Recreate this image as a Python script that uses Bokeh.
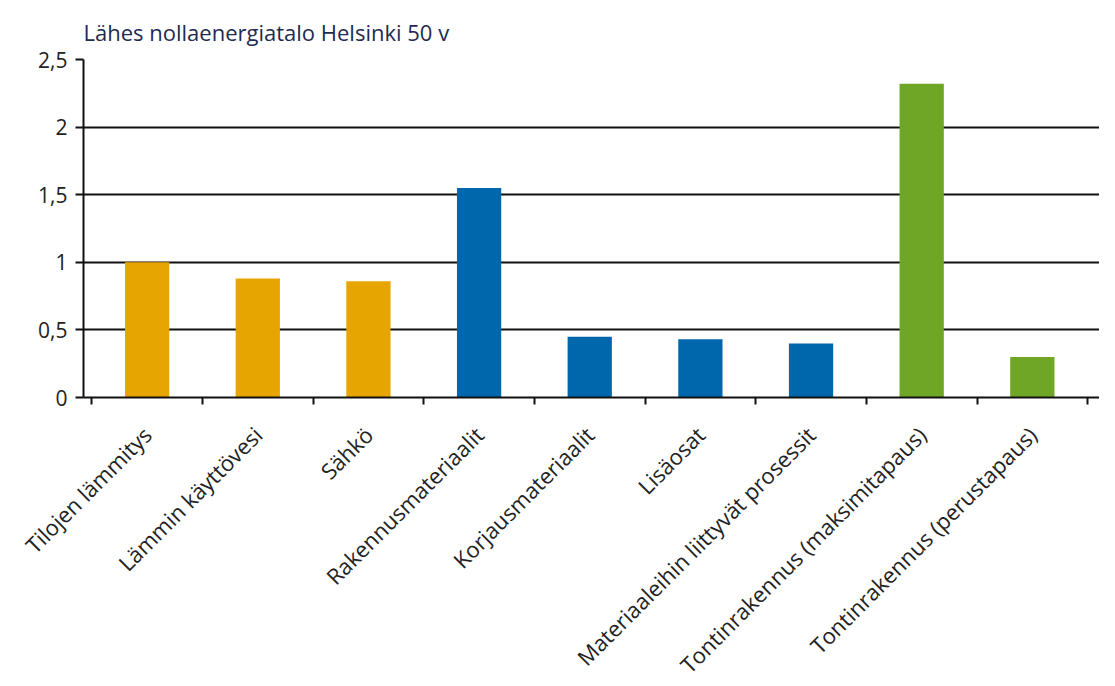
from bokeh.plotting import figure
from bokeh.models import Range1d, FixedTicker
from bokeh.embed import file_html
from bokeh.resources import INLINE

categories = [
    "Tilojen lämmitys",
    "Lämmin käyttövesi",
    "Sähkö",
    "Rakennusmateriaalit",
    "Korjausmateriaalit",
    "Lisäosat",
    "Materiaaleihin liittyvät prosessit",
    "Tontinrakennus (maksimitapaus)",
    "Tontinrakennus (perustapaus)",
]
values = [1.0, 0.88, 0.86, 1.55, 0.45, 0.43, 0.40, 2.32, 0.30]
group_colors = ["#E6A500"] * 3 + ["#0067AC"] * 4 + ["#6FA626"] * 2
y_ticks = [0, 0.5, 1, 1.5, 2, 2.5]
y_tick_labels = ["0", "0,5", "1", "1,5", "2", "2,5"]
title_text = "Lähes nollaenergiatalo Helsinki 50 v"

FONT = "Open Sans"
positions = [i + 0.5 for i in range(len(categories))]

p = figure(
    frame_width=1016, frame_height=338,
    x_range=Range1d(-0.075, 9.107), y_range=Range1d(0, 2.5),
    output_backend="svg", toolbar_location=None,
    min_border_left=83, min_border_right=0, min_border_top=59,
    title=title_text,
)
p.title.text_font = FONT
p.title.text_font_size = "22px"
p.title.text_font_style = "normal"
p.title.text_color = "#1e2b4f"
p.title.offset = 0
p.title.standoff = 26

p.vbar(x=positions, top=values, width=0.40, fill_color=group_colors,
       line_color=None)

p.outline_line_color = None
p.background_fill_color = "white"

# y axis
p.yaxis.ticker = FixedTicker(ticks=y_ticks)
p.yaxis.major_label_overrides = {t: l for t, l in zip(y_ticks, y_tick_labels)}
p.yaxis.major_label_text_font = FONT
p.yaxis.major_label_text_font_size = "21px"
p.yaxis.major_label_text_color = "#222222"
p.yaxis.axis_line_color = "#111111"
p.yaxis.axis_line_width = 2
p.yaxis.major_tick_line_color = "#111111"
p.yaxis.major_tick_line_width = 2
p.yaxis.major_tick_out = 8
p.yaxis.major_tick_in = 0
p.yaxis.minor_tick_line_color = None
p.yaxis.major_label_standoff = 8

# x axis
p.xaxis.ticker = FixedTicker(ticks=positions, minor_ticks=list(range(len(categories) + 1)))
p.xaxis.major_label_overrides = {pos: c for pos, c in zip(positions, categories)}
p.xaxis.major_label_orientation = 0.785398
p.xaxis.major_label_text_font = FONT
p.xaxis.major_label_text_font_size = "22px"
p.xaxis.major_label_text_color = "#222222"
p.xaxis.axis_line_color = "#111111"
p.xaxis.axis_line_width = 2
p.xaxis.major_tick_line_color = None
p.xaxis.major_tick_out = 0
p.xaxis.major_tick_in = 0
p.xaxis.minor_tick_line_color = "#111111"
p.xaxis.minor_tick_line_width = 2
p.xaxis.minor_tick_out = 7
p.xaxis.minor_tick_in = 0
p.xaxis.major_label_standoff = 26

# grid
p.xgrid.grid_line_color = None
p.ygrid.ticker = FixedTicker(ticks=y_ticks)
p.ygrid.grid_line_color = "#111111"
p.ygrid.grid_line_width = 2

open("out.html", "w").write(file_html(p, INLINE))
